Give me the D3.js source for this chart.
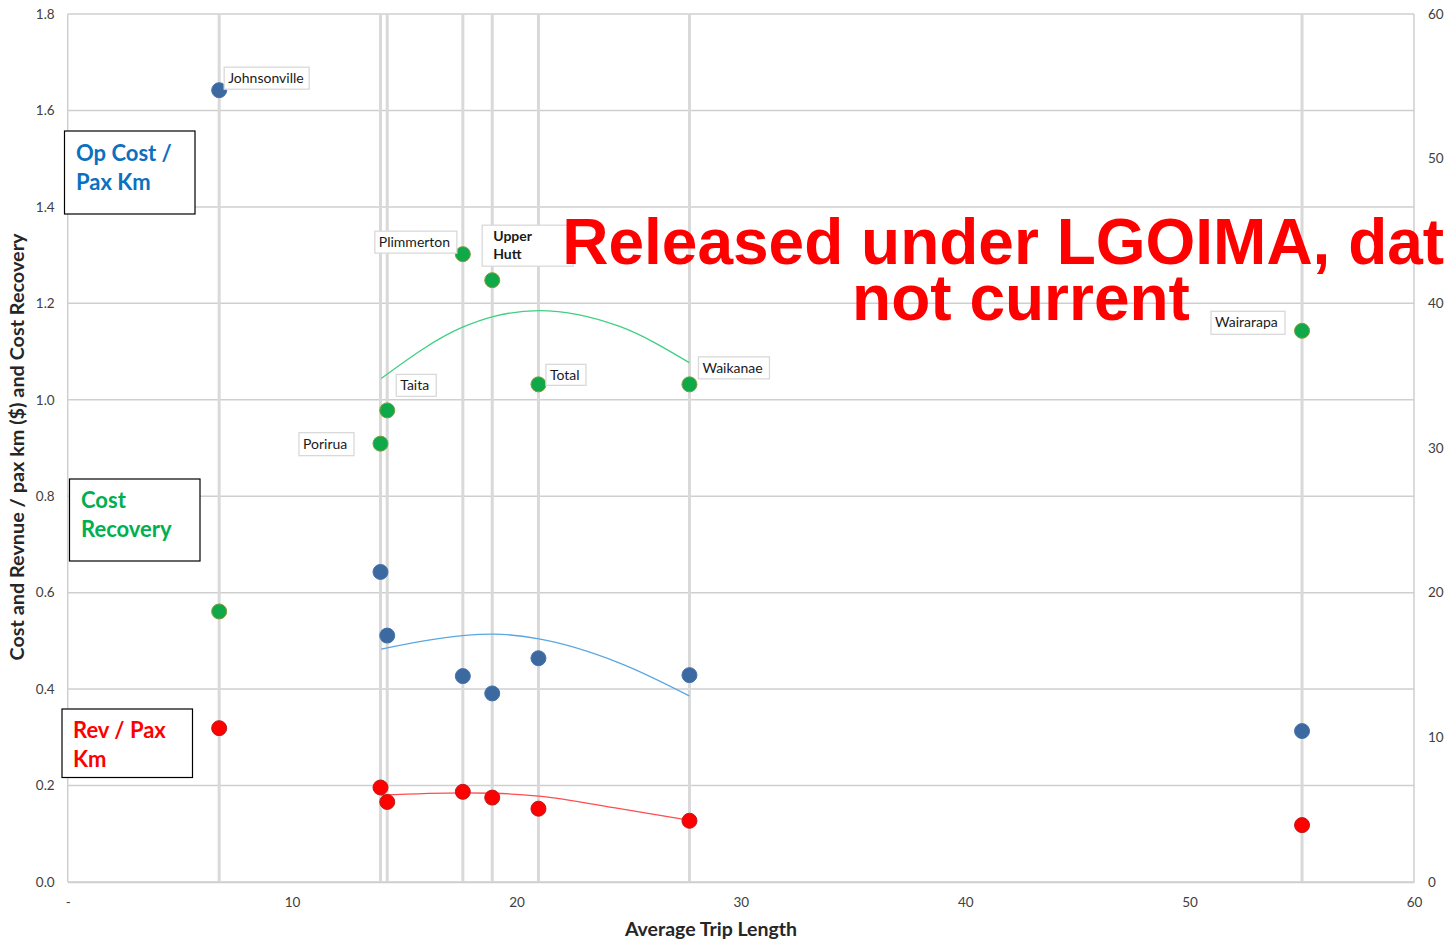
<!DOCTYPE html>
<html>
<head>
<meta charset="utf-8">
<script src="https://cdn.jsdelivr.net/npm/d3@7"></script>
<style>
  html, body { margin: 0; padding: 0; background: #ffffff; overflow: hidden; }
  svg { display: block; }
</style>
</head>
<body>
<svg id="chart" width="1445" height="940"></svg>
<script>
// Rail lines: average trip length (km)
const lines = ["Johnsonville", "Porirua", "Taita", "Plimmerton", "Upper Hutt", "Total", "Waikanae", "Wairarapa"];
const tripLength = [6.75, 13.94, 14.24, 17.61, 18.92, 20.98, 27.71, 55.01];

// Left axis ($ per passenger km)
const opCostPerPaxKm = [1.642, 0.643, 0.511, 0.427, 0.391, 0.464, 0.429, 0.313];
const revPerPaxKm = [0.319, 0.196, 0.166, 0.187, 0.175, 0.152, 0.127, 0.118];

// Right axis (cost recovery %)
const costRecovery = [18.7, 30.3, 32.6, 43.4, 41.6, 34.4, 34.4, 38.1];

// Polynomial trendlines over the mid-range lines
const trendX = [13.97, 17.6, 19.0, 21.0, 24.6, 27.7];
const opCostTrend = [0.483, 0.511, 0.514, 0.504, 0.454, 0.386];
const revTrend = [0.180, 0.185, 0.184, 0.178, 0.152, 0.128];
const recoveryTrend = [34.8, 38.35, 39.1, 39.5, 38.4, 35.9];

// Axis ticks
const xTicks = [0, 10, 20, 30, 40, 50, 60];
const xTickLabels = ["-", "10", "20", "30", "40", "50", "60"];
const yLeftTicks = [0, 0.2, 0.4, 0.6, 0.8, 1.0, 1.2, 1.4, 1.6, 1.8];
const yRightTicks = [0, 10, 20, 30, 40, 50, 60];

// Data label boxes: which series they sit next to, and offset of the box from that point
const labelPlacement = {
  "Johnsonville": { series: "op", dx: 5, dy: -23, w: 85, h: 22, bold: false },
  "Porirua": { series: "cr", dx: -81.5, dy: -11, w: 55, h: 23, bold: false },
  "Taita": { series: "cr", dx: 9, dy: -36, w: 40, h: 22, bold: false },
  "Plimmerton": { series: "cr", dx: -88, dy: -23, w: 82, h: 22, bold: false },
  "Upper Hutt": { series: "cr", dx: -10, dy: -55, w: 91, h: 41, bold: true },
  "Total": { series: "cr", dx: 7.5, dy: -20, w: 40, h: 21, bold: false },
  "Waikanae": { series: "cr", dx: 9, dy: -27.5, w: 71, h: 22, bold: false },
  "Wairarapa": { series: "cr", dx: -91, dy: -19.5, w: 74, h: 23, bold: false }
};

const W = 1445, H = 940;
const plot = { left: 67.7, right: 1414, top: 14, bottom: 882 };

const svg = d3.select("#chart");

const x = d3.scaleLinear().domain([0, 60]).range([plot.left, plot.right]);
const yL = d3.scaleLinear().domain([0, 1.8]).range([plot.bottom, plot.top]);
const yR = d3.scaleLinear().domain([0, 60]).range([plot.bottom, plot.top]);

const gridColor = "#cfcfcf";
const tickColor = "#404040";
const uiFont = "Lato, 'Open Sans', sans-serif";

// Horizontal gridlines
svg.append("g")
  .selectAll("line")
  .data(yLeftTicks)
  .join("line")
  .attr("x1", plot.left).attr("x2", plot.right)
  .attr("y1", d => yL(d)).attr("y2", d => yL(d))
  .attr("stroke", gridColor).attr("stroke-width", 1.5);

// Plot frame (left and right edges)
svg.append("line")
  .attr("x1", plot.left).attr("x2", plot.left)
  .attr("y1", plot.top).attr("y2", plot.bottom)
  .attr("stroke", gridColor).attr("stroke-width", 1.5);
svg.append("line")
  .attr("x1", plot.right).attr("x2", plot.right)
  .attr("y1", plot.top).attr("y2", plot.bottom)
  .attr("stroke", gridColor).attr("stroke-width", 1.5);

// Drop lines at each line's trip length
svg.append("g")
  .selectAll("line")
  .data(tripLength)
  .join("line")
  .attr("x1", d => x(d)).attr("x2", d => x(d))
  .attr("y1", plot.top).attr("y2", plot.bottom)
  .attr("stroke", "#d9d9d9").attr("stroke-width", 3);

// Left axis
const leftAxis = svg.append("g")
  .attr("transform", `translate(${plot.left},0)`)
  .call(d3.axisLeft(yL).tickValues(yLeftTicks).tickFormat(d3.format(".1f")).tickSize(0).tickPadding(13));
leftAxis.select(".domain").remove();
leftAxis.selectAll("text")
  .attr("font-family", uiFont).attr("font-size", 13.5).attr("fill", tickColor);

// Right axis
const rightAxis = svg.append("g")
  .attr("transform", `translate(${plot.right},0)`)
  .call(d3.axisRight(yR).tickValues(yRightTicks).tickFormat(d3.format("d")).tickSize(0).tickPadding(14));
rightAxis.select(".domain").remove();
rightAxis.selectAll("text")
  .attr("font-family", uiFont).attr("font-size", 13.5).attr("fill", tickColor);

// Bottom axis
const bottomAxis = svg.append("g")
  .attr("transform", `translate(0,${plot.bottom})`)
  .call(d3.axisBottom(x).tickValues(xTicks).tickFormat((d, i) => xTickLabels[i]).tickSize(0).tickPadding(15));
bottomAxis.select(".domain")
  .attr("stroke", gridColor).attr("stroke-width", 1.5);
bottomAxis.selectAll("text")
  .attr("font-family", uiFont).attr("font-size", 13.5).attr("fill", tickColor);

// Axis titles
svg.append("text")
  .attr("x", 711)
  .attr("y", 936)
  .attr("text-anchor", "middle")
  .attr("font-family", uiFont).attr("font-weight", "bold").attr("font-size", 19.5)
  .attr("fill", "#262626")
  .text("Average Trip Length");

svg.append("text")
  .attr("transform", `translate(24,447) rotate(-90)`)
  .attr("text-anchor", "middle")
  .attr("font-family", uiFont).attr("font-weight", "bold").attr("font-size", 19)
  .attr("textLength", 427).attr("lengthAdjust", "spacingAndGlyphs")
  .attr("fill", "#262626")
  .text("Cost and Revnue / pax km ($) and Cost Recovery");

// Trendlines
const trendDefs = [
  { values: opCostTrend, scale: yL, color: "#5aa7e0" },
  { values: revTrend, scale: yL, color: "#ff4d4d" },
  { values: recoveryTrend, scale: yR, color: "#3fcf80" }
];
trendDefs.forEach(t => {
  const line = d3.line()
    .x((d, i) => x(trendX[i]))
    .y(d => t.scale(d))
    .curve(d3.curveMonotoneX);
  svg.append("path")
    .datum(t.values)
    .attr("d", line)
    .attr("fill", "none")
    .attr("stroke", t.color)
    .attr("stroke-width", 1.3);
});

// Points
const pointSeries = [
  { values: opCostPerPaxKm, scale: yL, fill: "#3c6aa0", stroke: "#4672a8" },
  { values: revPerPaxKm, scale: yL, fill: "#ff0000", stroke: "#b81c1c" },
  { values: costRecovery, scale: yR, fill: "#10a94a", stroke: "#7f9a3a" }
];
pointSeries.forEach(s => {
  svg.append("g")
    .selectAll("circle")
    .data(s.values)
    .join("circle")
    .attr("cx", (d, i) => x(tripLength[i]))
    .attr("cy", d => s.scale(d))
    .attr("r", 7.5)
    .attr("fill", s.fill)
    .attr("stroke", s.stroke)
    .attr("stroke-width", 1);
});

// Data labels
const labelGroup = svg.append("g");
lines.forEach((name, i) => {
  const p = labelPlacement[name];
  const px = x(tripLength[i]);
  const py = p.series === "op" ? yL(opCostPerPaxKm[i]) : yR(costRecovery[i]);
  const bx = px + p.dx, by = py + p.dy;
  labelGroup.append("rect")
    .attr("x", bx).attr("y", by)
    .attr("width", p.w).attr("height", p.h)
    .attr("fill", "#ffffff")
    .attr("stroke", "#d9d9d9").attr("stroke-width", 1.3);
  const words = p.bold ? name.split(" ") : [name];
  words.forEach((w, k) => {
    labelGroup.append("text")
      .attr("x", bx + (p.bold ? 11 : 4))
      .attr("y", by + 16 + k * 18)
      .attr("font-family", uiFont)
      .attr("font-size", 14)
      .attr("font-weight", p.bold ? "bold" : "normal")
      .attr("fill", "#1a1a1a")
      .text(w);
  });
});

// Series legend boxes
const legendBoxes = [
  { lines: ["Op Cost /", "Pax Km"], color: "#0b70c0", x: 64.5, y: 131, w: 130.5, h: 83, tx: 76, ty: 160.5 },
  { lines: ["Cost", "Recovery"], color: "#00b050", x: 69.5, y: 479, w: 130.5, h: 82, tx: 81, ty: 508 },
  { lines: ["Rev / Pax", "Km"], color: "#ff0000", x: 62, y: 709, w: 130.5, h: 68.5, tx: 73, ty: 738 }
];
legendBoxes.forEach(b => {
  svg.append("rect")
    .attr("x", b.x).attr("y", b.y).attr("width", b.w).attr("height", b.h)
    .attr("fill", "#ffffff").attr("stroke", "#000000").attr("stroke-width", 1.2);
  b.lines.forEach((t, k) => {
    svg.append("text")
      .attr("x", b.tx).attr("y", b.ty + k * 29)
      .attr("font-family", uiFont).attr("font-weight", "bold").attr("font-size", 22)
      .attr("fill", b.color)
      .text(t);
  });
});

// Release notice
const notice = svg.append("g")
  .attr("font-family", "'Liberation Sans', Arial, sans-serif")
  .attr("font-weight", "bold")
  .attr("font-size", 64)
  .attr("fill", "#ff0000")
  .attr("text-anchor", "middle");
notice.append("text").attr("x", 1021).attr("y", 264).text("Released under LGOIMA, data");
notice.append("text").attr("x", 1021).attr("y", 320).text("not current");
</script>
</body>
</html>
